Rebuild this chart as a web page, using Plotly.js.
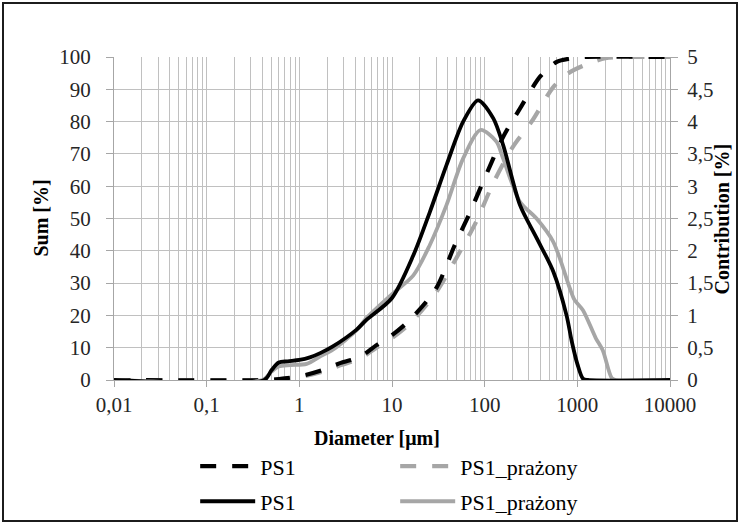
<!DOCTYPE html>
<html>
<head>
<meta charset="utf-8">
<script src="https://cdn.plot.ly/plotly-3.0.1.min.js"></script>
<style>
  html, body { margin: 0; padding: 0; background: #fff; }
  #wrap { position: relative; width: 740px; height: 524px; }
  #chart { position: absolute; left: 0; top: 0; width: 740px; height: 524px; }
  #frame { position: absolute; left: 2px; top: 2px; width: 736px; height: 520px;
           box-sizing: border-box; border: 2px solid #1c1c1c; pointer-events: none; }
</style>
</head>
<body>
<div id="wrap">
  <div id="chart"></div>
  <div id="frame"></div>
</div>
<script>
// Particle size distribution: cumulative sum (left axis) and contribution (right axis)

// Cumulative sum [%] - PS1
const ps1SumDiameter = [0.01, 0.45, 0.7, 1.15, 1.8, 2.8, 4.5, 6.8, 10, 15.6, 29.7, 47.6, 69, 100, 160, 240, 398, 600, 830, 1200, 10000];
const ps1SumValue    = [0, 0, 0.5, 1.5, 3.1, 5.3, 7.1, 10.8, 13.9, 18.6, 28.2, 41.8, 51.7, 62.5, 75.5, 84, 94, 98.5, 99.5, 100, 100];

// Cumulative sum [%] - PS1_prażony
const ps1pSumDiameter = [0.01, 0.42, 0.7, 1.15, 1.8, 2.8, 4.5, 6.8, 10, 15.6, 29.7, 54, 81, 124, 200, 330, 550, 800, 1200, 2000, 3000, 10000];
const ps1pSumValue    = [0, 0, 0.4, 1.2, 2.6, 4.6, 6.6, 10, 13, 17.5, 27, 39.7, 49, 61, 72, 80.5, 90.7, 95, 97.5, 99.6, 100, 100];

// Contribution [%] - PS1
const ps1ContribDiameter = [0.01, 0.42, 0.5, 0.6, 0.75, 1.0, 1.3, 1.7, 2.3, 4.15, 5.3, 10, 17, 25.6, 38.8, 58.6, 85, 124, 158, 240, 363, 550, 765, 870, 1000, 1150, 1300, 10000];
const ps1ContribValue    = [0, 0, 0.15, 0.27, 0.29, 0.31, 0.35, 0.42, 0.52, 0.78, 0.93, 1.27, 1.93, 2.6, 3.33, 4.0, 4.33, 4.05, 3.64, 2.71, 2.2, 1.68, 1.0, 0.6, 0.25, 0.02, 0, 0];

// Contribution [%] - PS1_prażony
const ps1pContribDiameter = [0.01, 0.4, 0.5, 0.6, 0.8, 1.2, 1.7, 2.3, 4.15, 5.3, 10, 17, 25.6, 38.8, 58.6, 90, 134, 158, 240, 363, 550, 830, 933, 1150, 1580, 1880, 2350, 2600, 10000];
const ps1pContribValue    = [0, 0, 0.13, 0.21, 0.23, 0.25, 0.37, 0.47, 0.77, 0.96, 1.33, 1.62, 2.09, 2.71, 3.43, 3.87, 3.69, 3.43, 2.76, 2.5, 2.14, 1.42, 1.24, 1.08, 0.65, 0.46, 0.03, 0, 0];

// Axis tick labels
const xTickValues = [0.01, 0.1, 1, 10, 100, 1000, 10000];
const xTickLabels = ['0,01', '0,1', '1', '10', '100', '1000', '10000'];

const seriesNames = ['PS1', 'PS1_prażony'];

const BLACK = '#000000';
const GRAY = '#a6a6a6';
const GRID = '#c0c0c0';
const AXIS = '#a6a6a6';
const SERIF = 'Liberation Serif';

// minor gridlines at 2..9 of every decade
const minorVals = [];
for (let e = -2; e < 4; e++) {
  for (let k = 2; k <= 9; k++) minorVals.push(k * Math.pow(10, e));
}

const traces = [
  {
    x: ps1pContribDiameter, y: ps1pContribValue, yaxis: 'y2',
    name: seriesNames[1], legend: 'legend2', legendrank: 2,
    mode: 'lines', line: { color: GRAY, width: 3.8, shape: 'spline', smoothing: 0.8 }
  },
  {
    x: ps1ContribDiameter, y: ps1ContribValue, yaxis: 'y2',
    name: seriesNames[0], legend: 'legend2', legendrank: 1,
    mode: 'lines', line: { color: BLACK, width: 3.8, shape: 'spline', smoothing: 0.8 }
  },
  {
    x: ps1pSumDiameter, y: ps1pSumValue, yaxis: 'y',
    name: seriesNames[1], legend: 'legend', legendrank: 2,
    mode: 'lines', line: { color: GRAY, width: 4.2, dash: '16px,16px', shape: 'spline', smoothing: 0.8 }
  },
  {
    x: ps1SumDiameter, y: ps1SumValue, yaxis: 'y',
    name: seriesNames[0], legend: 'legend', legendrank: 1,
    mode: 'lines', line: { color: BLACK, width: 4.2, dash: '16px,16px', shape: 'spline', smoothing: 0.8 }
  }
];

const legendBase = {
  orientation: 'h', xanchor: 'left', yanchor: 'middle',
  x: 0.146, entrywidthmode: 'pixels', entrywidth: 130, itemwidth: 55,
  font: { family: SERIF, size: 22, color: '#000' },
  bgcolor: 'rgba(0,0,0,0)', borderwidth: 0, traceorder: 'normal'
};

const tickFont = { family: SERIF, size: 21, color: '#262626' };
const titleFont = { family: SERIF, size: 20, color: '#000' };

const layout = {
  width: 740, height: 524,
  margin: { l: 114, r: 70, t: 57, b: 144, pad: 0, autoexpand: false },
  paper_bgcolor: '#ffffff', plot_bgcolor: '#ffffff',
  separators: ', ',
  font: { family: SERIF, size: 20, color: '#262626' },
  showlegend: true,
  xaxis: {
    type: 'log', range: [-2, 4],
    tickmode: 'array', tickvals: xTickValues, ticktext: xTickLabels,
    showgrid: true, gridcolor: GRID, gridwidth: 1,
    minor: { tickmode: 'array', tickvals: minorVals, showgrid: true, gridcolor: GRID, gridwidth: 1, ticks: '' },
    showline: true, linecolor: AXIS, linewidth: 1,
    ticks: 'outside', ticklen: 6, tickcolor: AXIS,
    tickfont: tickFont,
    zeroline: false
  },
  yaxis: {
    range: [0, 100], dtick: 10, tick0: 0,
    showgrid: true, gridcolor: GRID, gridwidth: 1,
    showline: true, linecolor: AXIS, linewidth: 1,
    ticks: 'outside', ticklen: 7, tickcolor: AXIS,
    tickfont: tickFont, ticklabelstandoff: 11,
    zeroline: false
  },
  yaxis2: {
    overlaying: 'y', side: 'right', anchor: 'x',
    range: [0, 5], dtick: 0.5, tick0: 0,
    showgrid: false,
    showline: true, linecolor: AXIS, linewidth: 1,
    ticks: 'outside', ticklen: 7, tickcolor: AXIS,
    tickfont: tickFont, ticklabelstandoff: 5,
    zeroline: false
  },
  legend: Object.assign({}, legendBase, { y: -0.267 }),
  legend2: Object.assign({}, legendBase, { y: -0.376 }),
  annotations: [
    {
      text: '<b>Diameter [μm]</b>', xref: 'paper', yref: 'paper',
      x: 0.473, y: -0.18, xanchor: 'center', yanchor: 'middle', showarrow: false,
      font: titleFont
    },
    {
      text: '<b>Sum [%]</b>', xref: 'paper', yref: 'paper', textangle: -90,
      x: -0.133, y: 0.5, xanchor: 'center', yanchor: 'middle', showarrow: false,
      font: titleFont
    },
    {
      text: '<b>Contribution [%]</b>', xref: 'paper', yref: 'paper', textangle: -90,
      x: 1.0935, y: 0.5, xanchor: 'center', yanchor: 'middle', showarrow: false,
      font: titleFont
    }
  ]
};

Plotly.newPlot('chart', traces, layout, { displayModeBar: false, staticPlot: true });
</script>
</body>
</html>
